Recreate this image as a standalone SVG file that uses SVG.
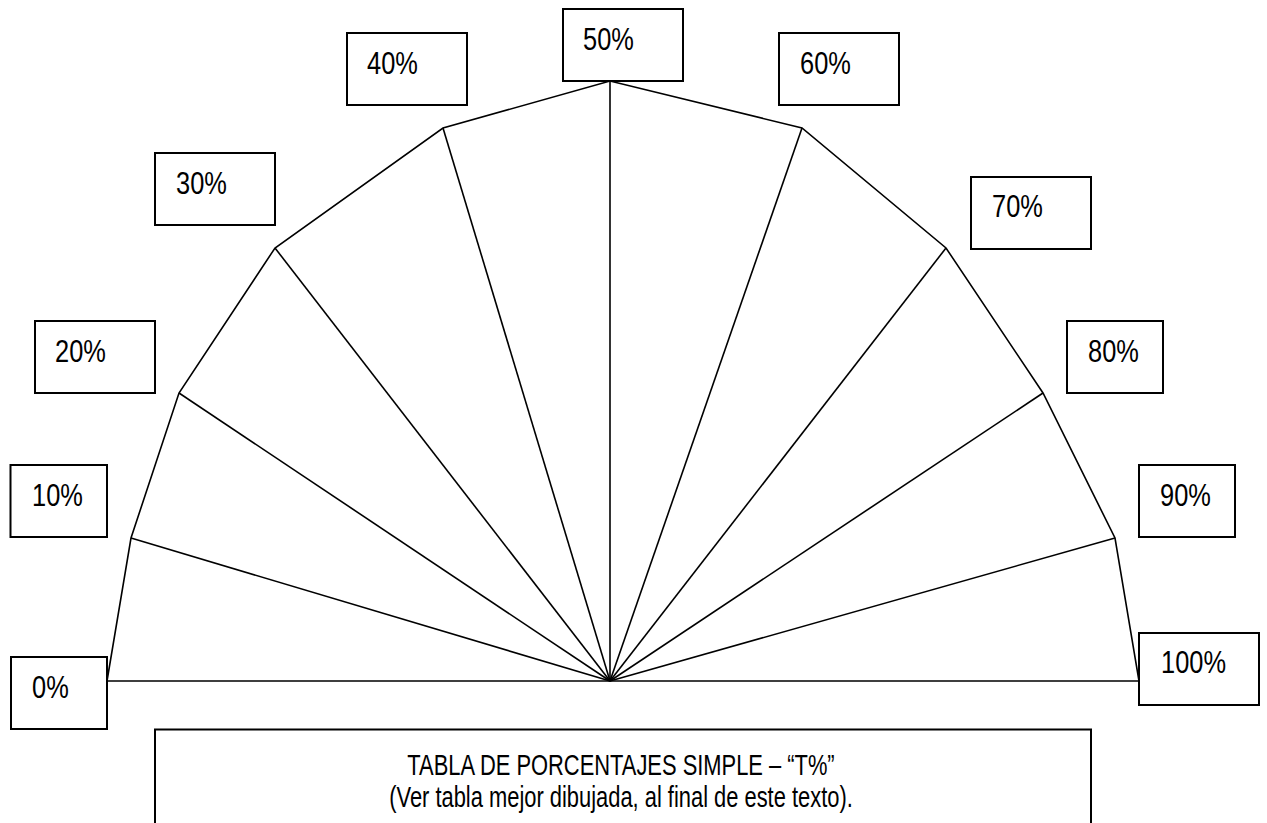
<svg xmlns="http://www.w3.org/2000/svg" width="1267" height="823" viewBox="0 0 1267 823">
<style>
.box{fill:#fff;stroke:#000;stroke-width:2}
.lbl{font-family:"Liberation Sans",Arial,sans-serif;font-size:31px;fill:#000}
.ttl{font-family:"Liberation Sans",Arial,sans-serif;font-size:30px;fill:#000;text-anchor:middle}
.ln{stroke:#000;stroke-width:1.6;fill:none;stroke-linejoin:miter}
</style>
<rect width="1267" height="823" fill="#fff"/>
<g id="connectors">
<polyline class="ln" points="107,681 131,538 179,393 275,248 443,128 610,81 802,128 946,248 1043,393 1115,538 1139,681 107,681"/>
<line class="ln" x1="610" y1="681" x2="131" y2="538"/>
<line class="ln" x1="610" y1="681" x2="179" y2="393"/>
<line class="ln" x1="610" y1="681" x2="275" y2="248"/>
<line class="ln" x1="610" y1="681" x2="443" y2="128"/>
<line class="ln" x1="610" y1="681" x2="610" y2="81"/>
<line class="ln" x1="610" y1="681" x2="802" y2="128"/>
<line class="ln" x1="610" y1="681" x2="946" y2="248"/>
<line class="ln" x1="610" y1="681" x2="1043" y2="393"/>
<line class="ln" x1="610" y1="681" x2="1115" y2="538"/>
</g>
<g id="n0"><rect class="box" x="11" y="657" width="96" height="72"/><text class="lbl" transform="translate(32,698) scale(0.82,1)">0%</text></g>
<g id="n10"><rect class="box" x="10.5" y="465" width="96.5" height="72"/><text class="lbl" transform="translate(32,506) scale(0.82,1)">10%</text></g>
<g id="n20"><rect class="box" x="35" y="321" width="120" height="72"/><text class="lbl" transform="translate(55,362) scale(0.82,1)">20%</text></g>
<g id="n30"><rect class="box" x="155" y="153" width="120" height="72"/><text class="lbl" transform="translate(176,194) scale(0.82,1)">30%</text></g>
<g id="n40"><rect class="box" x="347" y="33" width="120" height="72"/><text class="lbl" transform="translate(367,74) scale(0.82,1)">40%</text></g>
<g id="n50"><rect class="box" x="563" y="9" width="120" height="72"/><text class="lbl" transform="translate(583,50) scale(0.82,1)">50%</text></g>
<g id="n60"><rect class="box" x="779" y="33" width="120" height="72"/><text class="lbl" transform="translate(800,74) scale(0.82,1)">60%</text></g>
<g id="n70"><rect class="box" x="971" y="177" width="120" height="72"/><text class="lbl" transform="translate(992,217) scale(0.82,1)">70%</text></g>
<g id="n80"><rect class="box" x="1067" y="321" width="96" height="72"/><text class="lbl" transform="translate(1088,362) scale(0.82,1)">80%</text></g>
<g id="n90"><rect class="box" x="1139" y="465" width="96" height="72"/><text class="lbl" transform="translate(1160,506) scale(0.82,1)">90%</text></g>
<g id="n100"><rect class="box" x="1139" y="633" width="120" height="72"/><text class="lbl" transform="translate(1161,673) scale(0.82,1)">100%</text></g>
<g id="title"><rect class="box" x="155" y="729.5" width="936" height="120"/>
<text class="ttl" transform="translate(621,775) scale(0.73,1)">TABLA DE PORCENTAJES SIMPLE – “T%”</text>
<text class="ttl" transform="translate(621,807) scale(0.73,1)">(Ver tabla mejor dibujada, al final de este texto).</text></g>
</svg>
